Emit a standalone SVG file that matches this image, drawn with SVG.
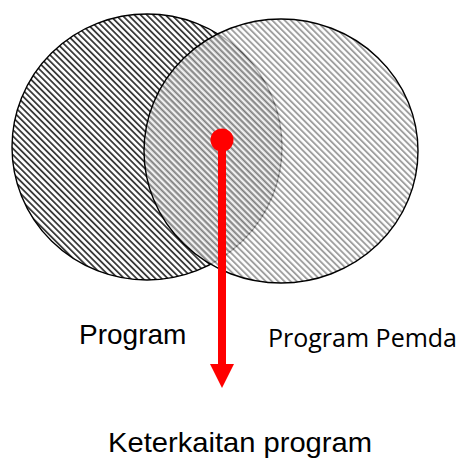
<svg xmlns="http://www.w3.org/2000/svg" width="460" height="459" viewBox="0 0 460 459">
<style>
.ring{stroke:#000;stroke-width:1.4}
.lbl{font-family:"Liberation Sans",Arial,sans-serif;font-size:28px;fill:#000}
.lbl2{font-family:"Open Sans","Noto Sans",sans-serif;font-size:25px;fill:#000}
</style>
<defs>
<pattern id="hatchA" patternUnits="userSpaceOnUse" width="4.4" height="10" patternTransform="rotate(-45)">
<rect width="4.4" height="10" fill="#fff"/>
<rect width="1.8" height="10" fill="#3a3a3a"/>
</pattern>
<pattern id="hatchB" patternUnits="userSpaceOnUse" width="4.4" height="10" patternTransform="rotate(-45) translate(1.2,0)">
<rect width="4.4" height="10" fill="#fff"/>
<rect width="1.9" height="10" fill="#7a7a7a"/>
</pattern>
<marker id="arrow" markerUnits="userSpaceOnUse" markerWidth="24" markerHeight="24" refX="0" refY="12" orient="auto">
<path d="M0,0 L24,12 L0,24 Z" fill="#ff0000"/>
</marker>
</defs>
<g id="program">
<ellipse class="ring" cx="147" cy="147" rx="135" ry="133" fill="url(#hatchA)"/>
</g>
<g id="program-pemda">
<ellipse cx="281" cy="151" rx="137" ry="132" fill="url(#hatchB)" fill-opacity="0.72" stroke="none"/>
<ellipse class="ring" cx="281" cy="151" rx="137" ry="132" fill="none"/>
</g>
<g id="connectors">
<circle cx="222" cy="140" r="11.5" fill="#ff0000"/>
<line x1="222" y1="140" x2="222" y2="364" stroke="#ff0000" stroke-width="8" marker-end="url(#arrow)"/>
</g>
<g id="labels">
<text class="lbl" x="79" y="344">Program</text>
<text class="lbl2" x="268" y="347" textLength="189" lengthAdjust="spacingAndGlyphs">Program Pemda</text>
<text class="lbl" x="240" y="452" text-anchor="middle" textLength="264" lengthAdjust="spacingAndGlyphs">Keterkaitan program</text>
</g>
</svg>
